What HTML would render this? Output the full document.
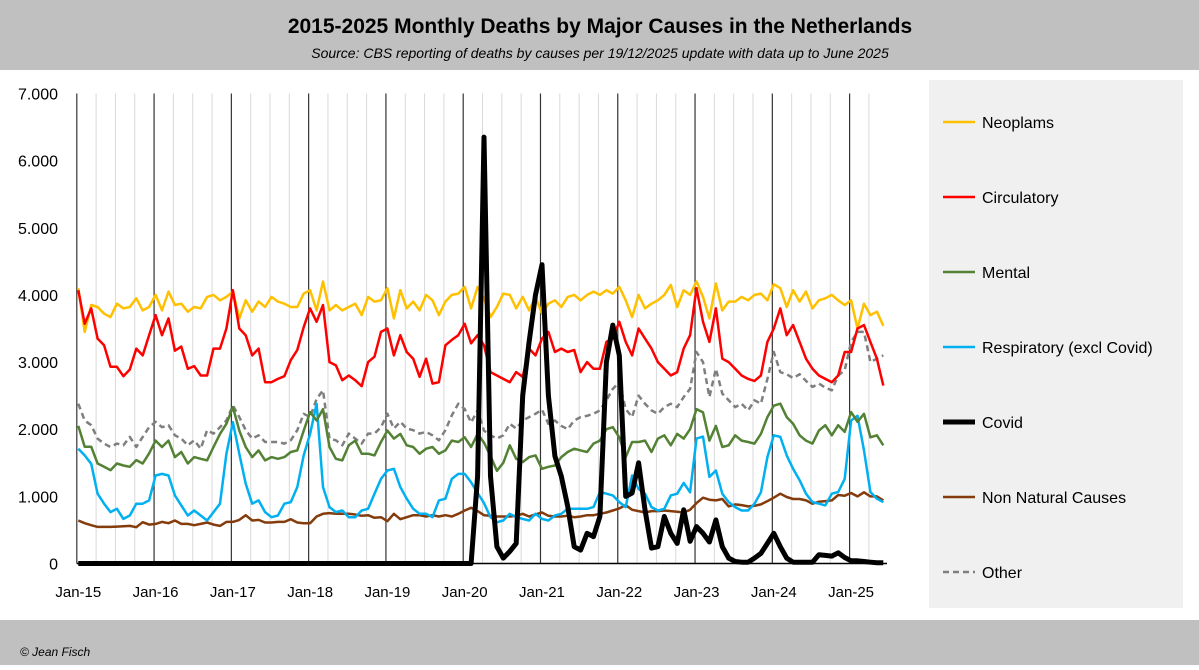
<!DOCTYPE html>
<html><head><meta charset="utf-8"><style>
body{margin:0;width:1199px;height:665px;overflow:hidden;background:#fff;font-family:"Liberation Sans",Calibri,sans-serif}
svg text{font-family:"Liberation Sans",sans-serif}
</style></head><body>
<svg id="chart" width="1199" height="665" xmlns="http://www.w3.org/2000/svg">
<rect x="0" y="0" width="1199" height="70" fill="#c0c0c0"/>
<text x="600" y="33" text-anchor="middle" font-size="21" font-weight="bold" fill="#000">2015-2025 Monthly Deaths by Major Causes in the Netherlands</text>
<text x="600" y="58" text-anchor="middle" font-size="14" font-style="italic" fill="#000">Source: CBS reporting of deaths by causes per 19/12/2025 update with data up to June 2025</text>
<rect x="0" y="620" width="1199" height="45" fill="#c0c0c0"/>
<text x="20" y="656" font-size="12" font-style="italic" fill="#000">© Jean Fisch</text>
<rect x="929" y="80" width="254" height="528" fill="#f0f0f0"/>
<g id="grid"></g><g id="axes"></g><g id="series"></g><g id="legend"></g>
</svg>
<script>
const yTicks=[0,1000,2000,3000,4000,5000,6000,7000];
const yTickLabels=["0","1.000","2.000","3.000","4.000","5.000","6.000","7.000"];
const xTickLabels=["Jan-15","Jan-16","Jan-17","Jan-18","Jan-19","Jan-20","Jan-21","Jan-22","Jan-23","Jan-24","Jan-25"];
const seriesNames=["Neoplams","Circulatory","Mental","Respiratory (excl Covid)","Covid","Non Natural Causes","Other"];
const neoplasms=[4100,3450,3850,3820,3720,3670,3870,3800,3820,3950,3770,3820,
4000,3770,4050,3850,3870,3750,3820,3800,3970,4000,3920,3970,
4050,3650,3920,3750,3900,3820,3970,3900,3870,3820,3820,4020,
4070,3770,4200,3770,3850,3770,3820,3870,3700,3970,3900,3920,
4100,3650,4070,3800,3900,3770,4000,3920,3700,3900,4000,4020,
4120,3800,4120,3950,3670,3820,4020,4000,3800,3970,3770,3970,
3720,3870,3920,3820,3970,4000,3920,4000,4050,4000,4070,4020,
4120,3920,3670,4000,3800,3870,3920,4000,4150,3820,4070,4000,
4200,3970,3650,4170,3770,3900,3900,3970,3920,4000,4020,3920,
4160,4100,3820,4070,3900,4050,3800,3920,3950,4000,3920,3850,
3920,3500,3870,3700,3750,3540];
const circulatory=[4070,3570,3800,3350,3250,2930,2930,2790,2890,3200,3100,3400,
3700,3400,3650,3170,3230,2900,2940,2800,2800,3200,3200,3500,
4070,3500,3400,3100,3200,2700,2700,2750,2790,3030,3180,3520,
3800,3600,3850,3000,2950,2730,2800,2730,2640,3000,3080,3450,
3500,3100,3400,3150,3050,2780,3050,2680,2700,3250,3330,3400,
3570,3280,3400,3250,2850,2800,2750,2700,2850,2780,3200,3100,
3350,3450,3150,3200,3150,3180,2850,3000,2900,2900,3300,3350,
3600,3300,3100,3500,3350,3200,3000,2900,2800,2850,3200,3400,
4100,3600,3300,3800,3050,3000,2900,2800,2750,2720,2800,3300,
3500,3800,3400,3550,3300,3050,2900,2800,2750,2700,2800,3150,
3150,3500,3550,3300,3050,2650];
const mental=[2050,1740,1740,1490,1440,1390,1490,1460,1440,1540,1490,1640,
1830,1735,1830,1585,1660,1490,1585,1560,1535,1735,1930,2080,
2330,1980,1735,1585,1685,1535,1585,1560,1585,1660,1685,1980,
2255,2130,2300,1735,1560,1535,1760,1830,1635,1635,1610,1810,
1980,1860,1930,1760,1735,1635,1710,1735,1635,1685,1830,1810,
1880,1735,1930,1800,1600,1380,1500,1760,1560,1510,1585,1610,
1410,1440,1460,1585,1660,1710,1685,1660,1785,1830,2000,2030,
1880,1585,1810,1810,1830,1660,1860,1910,1760,1930,1860,2000,
2300,2250,1830,2050,1735,1760,1910,1830,1810,1785,1930,2180,
2350,2380,2180,2080,1910,1830,1785,1980,2060,1910,2060,1960,
2255,2110,2230,1880,1910,1760];
const respiratory=[1710,1610,1485,1040,890,765,815,665,715,890,890,940,
1310,1335,1310,1015,865,715,790,715,640,765,890,1635,
2105,1635,1190,890,940,765,690,715,890,915,1140,1610,
1930,2380,1140,840,765,790,690,690,790,815,1040,1260,
1385,1410,1140,965,815,740,740,690,940,965,1260,1335,
1335,1210,1050,900,690,615,640,740,690,665,640,740,
665,640,715,740,815,815,815,815,840,1065,1040,1015,
915,840,1310,1110,1040,840,790,815,1015,1040,1200,1060,
1860,1890,1290,1385,1040,915,840,790,790,890,1060,1585,
1910,1885,1610,1410,1240,1040,915,890,865,1040,1065,1260,
2130,2200,1685,1065,965,915];
const covid=[0,0,0,0,0,0,0,0,0,0,0,0,
0,0,0,0,0,0,0,0,0,0,0,0,
0,0,0,0,0,0,0,0,0,0,0,0,
0,0,0,0,0,0,0,0,0,0,0,0,
0,0,0,0,0,0,0,0,0,0,0,0,
0,0,1300,6350,1300,250,80,180,300,2500,3300,4000,
4450,2500,1600,1300,850,250,200,450,400,700,3000,3550,
3100,1000,1050,1500,800,230,250,700,450,300,800,330,
550,450,320,650,250,80,30,20,20,80,150,300,
450,250,80,20,20,20,20,130,120,110,160,90,
40,40,30,20,10,10];
const nonNatural=[640,600,570,545,545,545,550,555,560,540,615,580,
590,620,600,640,590,590,570,590,610,580,560,620,
620,650,720,640,650,610,610,620,620,660,610,600,
600,700,740,750,740,740,740,730,710,720,680,690,
630,740,660,690,720,720,700,720,700,720,700,740,
790,830,780,720,710,700,700,700,710,740,700,730,
760,710,700,700,710,690,700,720,720,740,760,790,
820,870,800,780,760,780,780,790,780,770,760,800,
900,980,950,940,960,850,880,870,850,860,880,930,
980,1040,990,960,960,940,890,920,930,940,1020,1010,
1050,1000,1060,1000,1000,940];
const other=[2380,2130,2060,1860,1785,1735,1785,1760,1885,1735,1885,2030,
2110,2030,2060,1910,1860,1760,1835,1710,1985,1935,2030,2130,
2355,2180,1985,1860,1910,1810,1810,1810,1785,1835,1985,2230,
2180,2450,2580,1860,1835,1760,1935,1860,1785,1935,1935,2030,
2230,2010,2110,2010,1985,1935,1960,1910,1835,1985,2205,2380,
2300,2100,2280,1980,1910,1860,1910,2080,2010,2130,2180,2230,
2290,2080,2130,2050,2000,2130,2180,2200,2230,2280,2430,2600,
2700,2300,2180,2500,2380,2280,2230,2330,2380,2330,2480,2600,
3150,3000,2480,2900,2530,2430,2330,2380,2280,2430,2380,2750,
3150,2850,2820,2760,2820,2720,2630,2680,2620,2580,2800,2880,
3300,3450,3450,3000,3050,3100];
const seriesData=[neoplasms,circulatory,mental,respiratory,covid,nonNatural,other];
const colors=["#ffc000","#ff0000","#548235","#00b0f0","#000000","#843c0c","#7f7f7f"];
const widths=[2.5,2.5,2.5,2.5,5,2.5,2.5];

const NS="http://www.w3.org/2000/svg";
const X0=78.3, STEP=6.44, Y0=563.5, YTOP=93.5, YMAX=7000;
function xScale(i){return X0+STEP*i;}
function yScale(v){return Y0-(v/YMAX)*(Y0-YTOP);}
function mk(tag,attrs,parent){const e=document.createElementNS(NS,tag);for(const k in attrs)e.setAttribute(k,attrs[k]);parent.appendChild(e);return e;}
const grid=document.getElementById('grid'),axes=document.getElementById('axes'),ser=document.getElementById('series'),leg=document.getElementById('legend');
// quarterly light gridlines, yearly dark
for(let q=0;q<=42;q++){
  const xi=X0-1.5+STEP*3*q;
  if(xi>888)break;
  const major=q%4===0;
  const l=mk('line',{x1:xi,x2:xi,y1:YTOP,y2:Y0,stroke:major?'#333':'#d9d9d9','stroke-width':major?1.2:1},grid);
  
  
}
yTicks.forEach((v,i)=>{
  const t=mk('text',{x:58,y:yScale(v)+6,'text-anchor':'end','font-size':16,fill:'#000'},axes);
  t.textContent=yTickLabels[i];
  
  
});
xTickLabels.forEach((s,i)=>{
  const t=mk('text',{x:xScale(i*12),y:597,'text-anchor':'middle','font-size':15,fill:'#000'},axes);
  t.textContent=s;
  
  
});
const ax=mk('line',{x1:X0-1.5,x2:887,y1:Y0,y2:Y0,stroke:'#000','stroke-width':1.5},axes);


const order=[6,5,3,2,0,1,4];
order.forEach(k=>{
  const d=seriesData[k];
  const pts=d.map((v,i)=>xScale(i).toFixed(1)+','+yScale(v).toFixed(1)).join(' ');
  const attrs={points:pts,fill:'none',stroke:colors[k],'stroke-width':widths[k],'stroke-linejoin':'round'};
  if(k===6)attrs['stroke-dasharray']='6,4';
  const p=mk('polyline',attrs,ser);
  
  
});
seriesNames.forEach((n,k)=>{
  const y=122+75*k;
  const g=mk('g',{},leg);
  
  
  const a={x1:943,x2:975,y1:y,y2:y,stroke:colors[k],'stroke-width':widths[k]};
  if(k===6)a['stroke-dasharray']='6,4';
  mk('line',a,g);
  const t=mk('text',{x:982,y:y+6,'font-size':16,fill:'#000'},g);
  t.textContent=n;
});
</script>
</body></html>
